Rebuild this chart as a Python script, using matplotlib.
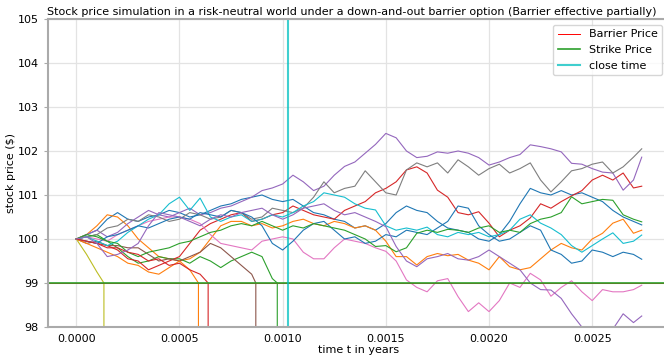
import matplotlib
import numpy as np

matplotlib.use("Agg")
import matplotlib.pyplot as plt
from matplotlib.ticker import FormatStrFormatter

# simulation time steps (years); last point is the end of the day
t_grid = [round(0.00005 * k, 5) for k in range(55)] + [0.00274]

# surviving paths (one row = 0.0005 years)
blue_x = [100.0, 100.1, 100.2, 100.45, 100.6, 100.45, 100.4, 100.5, 100.55, 100.65,
          100.6, 100.5, 100.55, 100.65, 100.75, 100.8, 100.9, 100.95, 101.0, 100.9,
          100.85, 100.9, 100.75, 100.6, 100.55, 100.45, 100.4, 100.25, 100.3, 100.2,
          100.35, 100.6, 100.75, 100.65, 100.6, 100.4, 100.25, 100.2, 100.15, 100.0,
          99.95, 100.1, 100.4, 100.8, 101.15, 101.05, 101.0, 101.1, 101.0, 101.05,
          100.95, 100.85, 100.65, 100.5, 100.4, 100.32]
orange = [100.0, 100.1, 100.3, 100.55, 100.5, 100.3, 100.0, 99.8, 99.6, 99.55,
          99.5, 99.55, 99.7, 100.0, 100.3, 100.4, 100.4, 100.3, 100.35, 100.25,
          100.3, 100.4, 100.45, 100.35, 100.3, 100.4, 100.35, 100.25, 100.3, 100.2,
          99.95, 99.6, 99.6, 99.41, 99.6, 99.67, 99.62, 99.65, 99.52, 99.45,
          99.3, 99.6, 99.37, 99.3, 99.35, 99.55, 99.75, 99.9, 99.8, 99.75,
          100.0, 100.13, 100.36, 100.45, 100.13, 100.2]
red_a = [100.0, 99.95, 99.9, 99.85, 99.75, 99.55, 99.5, 99.3, 99.4, 99.5,
         99.6, 99.9, 100.2, 100.35, 100.45, 100.55, 100.6, 100.4, 100.45, 100.55,
         100.6, 100.75, 100.65, 100.55, 100.5, 100.45, 100.65, 100.75, 100.85, 101.05,
         101.15, 101.3, 101.57, 101.64, 101.5, 101.11, 100.95, 100.6, 100.55, 100.62,
         100.36, 100.05, 100.2, 100.3, 100.48, 100.8, 100.7, 100.85, 100.98, 101.1,
         101.34, 101.45, 101.34, 101.5, 101.16, 101.2]
purple_a = [100.0, 100.1, 100.2, 100.05, 100.15, 100.35, 100.5, 100.65, 100.55, 100.5,
            100.6, 100.7, 100.55, 100.6, 100.7, 100.75, 100.85, 100.95, 101.1, 101.16,
            101.25, 101.45, 101.3, 101.1, 101.2, 101.45, 101.65, 101.75, 101.95, 102.15,
            102.4, 102.3, 102.0, 101.85, 101.88, 101.98, 101.95, 102.0, 101.95, 101.85,
            101.68, 101.75, 101.85, 101.92, 102.14, 102.1, 102.05, 101.98, 101.72, 101.7,
            101.6, 101.52, 101.5, 101.11, 101.34, 101.86]
pink = [100.0, 100.05, 100.0, 99.95, 100.1, 100.2, 100.3, 100.4, 100.45, 100.5,
        100.5, 100.45, 100.35, 100.1, 99.9, 99.85, 99.8, 99.75, 99.95, 100.0,
        100.05, 100.0, 99.7, 99.55, 99.55, 99.8, 100.0, 99.95, 99.9, 99.8,
        99.72, 99.5, 99.07, 98.9, 98.8, 99.05, 99.1, 98.69, 98.35, 98.55,
        98.35, 98.6, 99.0, 98.9, 99.22, 99.07, 98.7, 98.9, 99.05, 98.8,
        98.6, 98.85, 98.8, 98.8, 98.85, 98.95]
gray = [100.0, 100.05, 100.1, 100.25, 100.3, 100.45, 100.4, 100.55, 100.5, 100.4,
        100.45, 100.6, 100.55, 100.45, 100.5, 100.65, 100.6, 100.45, 100.5, 100.7,
        100.65, 100.6, 100.7, 100.95, 101.3, 101.05, 101.15, 101.2, 101.55, 101.3,
        101.05, 101.0, 101.57, 101.73, 101.64, 101.73, 101.5, 101.8, 101.64, 101.45,
        101.6, 101.7, 101.5, 101.6, 101.73, 101.34, 101.07, 101.3, 101.55, 101.6,
        101.7, 101.75, 101.5, 101.64, 101.86, 102.05]
cyan = [100.0, 100.05, 99.95, 99.85, 99.95, 100.15, 100.3, 100.45, 100.55, 100.8,
        100.95, 100.65, 100.93, 100.5, 100.4, 100.5, 100.55, 100.4, 100.45, 100.55,
        100.5, 100.6, 100.75, 100.85, 101.05, 101.0, 100.95, 100.8, 100.7, 100.66,
        100.3, 100.2, 100.25, 100.2, 100.27, 100.1, 100.05, 100.15, 100.1, 100.15,
        100.05, 100.1, 100.2, 100.45, 100.55, 100.36, 100.25, 100.1, 99.85, 99.7,
        99.85, 100.0, 100.14, 99.9, 99.95, 100.09]
blue_b = [100.0, 99.95, 99.9, 100.05, 100.1, 100.2, 100.3, 100.25, 100.35, 100.45,
          100.5, 100.45, 100.6, 100.55, 100.5, 100.65, 100.6, 100.5, 100.3, 99.9,
          99.75, 99.95, 100.2, 100.35, 100.4, 100.2, 100.0, 100.05, 99.9, 99.95,
          100.1, 100.05, 100.2, 100.15, 100.1, 100.25, 100.4, 100.75, 100.7, 100.3,
          100.1, 99.95, 100.0, 100.15, 100.3, 100.2, 99.75, 99.65, 99.45, 99.5,
          99.75, 99.7, 99.6, 99.7, 99.65, 99.54]
green = [100.0, 100.1, 100.05, 99.95, 99.9, 99.7, 99.6, 99.7, 99.75, 99.8,
         99.9, 99.95, 100.05, 100.15, 100.2, 100.3, 100.35, 100.3, 100.4, 100.3,
         100.2, 100.3, 100.25, 100.35, 100.3, 100.25, 100.2, 100.1, 100.0, 99.83,
         99.85, 99.71, 99.8, 100.13, 100.2, 100.15, 100.22, 100.2, 100.15, 100.25,
         100.3, 100.15, 100.2, 100.15, 100.35, 100.45, 100.5, 100.6, 100.96, 100.8,
         100.85, 100.9, 100.88, 100.55, 100.45, 100.39]
purple_b = [100.0, 100.05, 99.9, 99.6, 99.65, 99.75, 99.9, 100.3, 100.6, 100.55,
            100.5, 100.4, 100.3, 100.45, 100.55, 100.5, 100.6, 100.65, 100.7, 100.55,
            100.45, 100.55, 100.7, 100.75, 100.8, 100.65, 100.55, 100.6, 100.5, 100.4,
            100.28, 99.83, 99.5, 99.37, 99.55, 99.6, 99.67, 99.55, 99.52, 99.6,
            99.75, 99.6, 99.45, 99.3, 99.0, 98.85, 98.84, 98.65, 98.3, 98.0,
            97.6, 97.7, 97.95, 98.3, 98.1, 98.25]

# knocked-out paths: values on t_grid up to the knock-out time
olive_k = [100.0, 99.65, 99.25]
orange_k = [100.0, 99.9, 99.8, 99.7, 99.6, 99.45, 99.4, 99.25, 99.2, 99.35,
            99.5, 99.3]
red_k = [100.0, 99.95, 99.9, 99.8, 99.8, 99.7, 99.65, 99.5, 99.55, 99.4,
         99.45, 99.3, 99.2]
brown_k = [100.0, 99.9, 99.95, 99.85, 99.85, 99.8, 99.8, 99.65, 99.5, 99.55,
           99.5, 99.6, 99.7, 99.9, 99.8, 99.6, 99.4, 99.2]
green_k = [100.0, 100.05, 100.1, 99.95, 99.8, 99.6, 99.45, 99.5, 99.6, 99.55,
           99.55, 99.45, 99.6, 99.5, 99.35, 99.5, 99.6, 99.7, 99.6, 99.1]
knock_times = {"olive": 0.000134, "orange": 0.000592, "red": 0.000639,
               "brown": 0.00087, "green": 0.000974}

barrier = 99.0
strike = 99.0
close_time = 0.001024


def knocked(values, t_knock):
    # once the barrier is hit the path is worth zero
    t = t_grid[:len(values)] + [t_knock, t_knock, t_grid[-1]]
    v = list(values) + [barrier, 0.0, 0.0]
    return t, v


fig = plt.figure(figsize=(6.64, 3.58), dpi=100)
ax = fig.add_axes([48 / 664, 31 / 358, 622 / 664, 308 / 358])

paths = [
    (t_grid, blue_x),
    (t_grid, orange),
    knocked(green_k, knock_times["green"]),
    (t_grid, red_a),
    (t_grid, purple_a),
    knocked(brown_k, knock_times["brown"]),
    (t_grid, pink),
    (t_grid, gray),
    knocked(olive_k, knock_times["olive"]),
    (t_grid, cyan),
    (t_grid, blue_b),
    knocked(orange_k, knock_times["orange"]),
    (t_grid, green),
    knocked(red_k, knock_times["red"]),
    (t_grid, purple_b),
]
for t, v in paths:
    ax.plot(t, v, linewidth=0.8)

ax.axhline(barrier, color="red", linewidth=0.7, label="Barrier Price")
ax.axhline(strike, color="tab:green", linewidth=1.2, label="Strike Price")
ax.axvline(close_time, color="c", linewidth=1.5, alpha=0.75, label="close time")

ax.set_ylim(98, 105)
ax.set_xlim(-0.000137, 0.002877)
ax.set_xticks([0.0, 0.0005, 0.0010, 0.0015, 0.0020, 0.0025])
ax.xaxis.set_major_formatter(FormatStrFormatter("%.4f"))
ax.grid(color="#e3e3e3", linewidth=0.9)
ax.set_axisbelow(True)
for spine in ax.spines.values():
    spine.set_color("#aaaaaa")
    spine.set_linewidth(1.5)
ax.tick_params(axis="y", length=3, color="#aaaaaa", labelsize=8)
ax.tick_params(axis="x", length=0, labelsize=8, pad=5)

ax.set_xlabel("time t in years", fontsize=8, labelpad=1)
ax.set_ylabel("stock price ($)", fontsize=8, labelpad=1)
ax.set_title("Stock price simulation in a risk-neutral world under a down-and-out barrier option "
             "(Barrier effective partially)", fontsize=8.0, pad=3, x=0.488)
ax.legend(loc="upper right", bbox_to_anchor=(662 / 664, 1 - 25 / 358),
          bbox_transform=fig.transFigure, borderaxespad=0, fontsize=8)

fig.savefig("out.png", dpi=100)
plt.close(fig)
